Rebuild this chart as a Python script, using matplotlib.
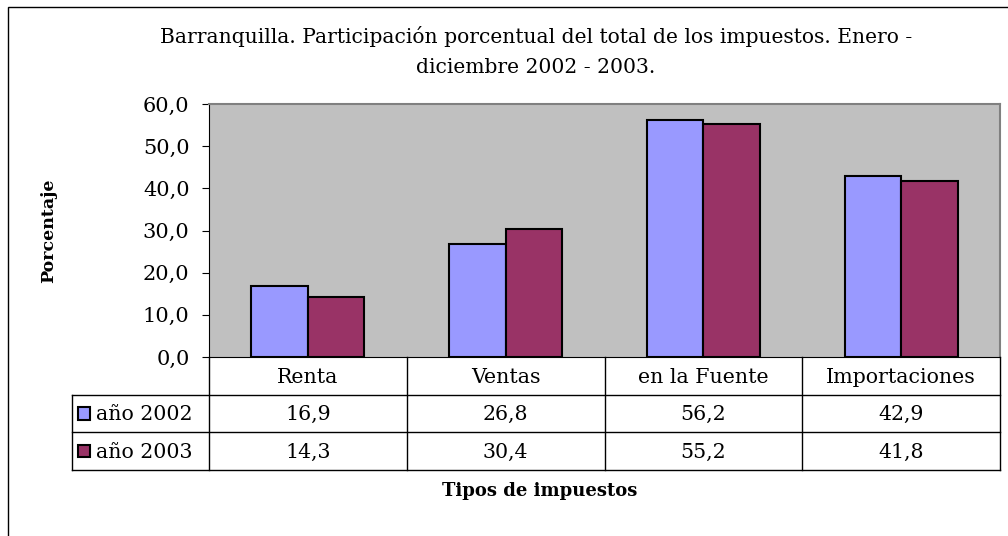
import matplotlib.pyplot as plt
import numpy as np
from matplotlib.patches import Rectangle

plt.rc('font', family='DejaVu Serif')

# data
categorias = ["Renta", "Ventas", "en la Fuente", "Importaciones"]
series = ["año 2002", "año 2003"]
valores_2002 = [16.9, 26.8, 56.2, 42.9]
valores_2003 = [14.3, 30.4, 55.2, 41.8]
colores = ["#9999FF", "#993366"]

W, H = 1008, 536
fig = plt.figure(figsize=(W / 100, H / 100), dpi=100)


def box(x0, y0, x1, y1):
    # pixel box (from top-left) -> figure fraction rect
    return [x0 / W, 1 - y1 / H, (x1 - x0) / W, (y1 - y0) / H]


# outer chart border (right and bottom run off the image)
fig.patches.append(Rectangle((8 / W, -0.05), 1.1, 1 - 7 / H + 0.05,
                             transform=fig.transFigure, fill=False,
                             edgecolor="black", linewidth=1.0))

fig.text(536 / W, 1 - 51.5 / H,
         "Barranquilla. Participación porcentual del total de los impuestos. Enero -\n"
         "diciembre 2002 - 2003.",
         ha="center", va="center", fontsize=14.6, linespacing=1.68)

x_left, x_right = 209, 1000
ax = fig.add_axes(box(x_left, 104, x_right, 357))
ax.set_facecolor("#C0C0C0")
x = np.arange(len(categorias))
bw = 1 / 3.5
ax.bar(x - bw / 2, valores_2002, bw, color=colores[0], edgecolor="black", linewidth=1.5)
ax.bar(x + bw / 2, valores_2003, bw, color=colores[1], edgecolor="black", linewidth=1.5)
ax.set_xlim(-0.5, 3.5)
ax.set_ylim(0, 60)
ax.set_yticks(np.arange(0, 61, 10))
ax.set_yticklabels([f"{v:.1f}".replace(".", ",") for v in np.arange(0, 61, 10)])
ax.set_xticks([])
ax.tick_params(axis="y", direction="out", length=5, labelsize=15, pad=9)
for s in ["top", "right"]:
    ax.spines[s].set_color("#808080")
    ax.spines[s].set_linewidth(1.5)
for s in ["left", "bottom"]:
    ax.spines[s].set_color("black")
ax.set_ylabel("Porcentaje", fontsize=12.5, fontweight="bold")
ax.yaxis.set_label_coords((57 - x_left) / (x_right - x_left), 0.5)

# data table below the plot
cat_w = (x_right - x_left) / 4
left = -0.5 - (x_left - 72) / cat_w
tab = fig.add_axes(box(72, 357, x_right, 470))
tab.set_xlim(left, 3.5)
tab.set_ylim(3, 0)
tab.axis("off")
lk = dict(color="black", linewidth=1.0, solid_capstyle="projecting", clip_on=False)
for xv in np.arange(-0.5, 3.6, 1):
    tab.plot([xv, xv], [0, 3], **lk)
tab.plot([left, left], [1, 3], **lk)
for yv in [1, 2, 3]:
    tab.plot([left, 3.5], [yv, yv], **lk)
for i, c in enumerate(categorias):
    tab.text(i, 0.55, c, ha="center", va="center", fontsize=14.8)
for r, (nombre, vals, col) in enumerate(zip(series, [valores_2002, valores_2003], colores)):
    yc = r + 1.5
    tab.add_patch(Rectangle((left + 0.03, yc - 0.16), 0.06, 0.32, facecolor=col,
                            edgecolor="black", linewidth=1.5))
    tab.text(left + 0.12, yc + 0.03, nombre, ha="left", va="center", fontsize=14.8)
    for i, v in enumerate(vals):
        tab.text(i, yc + 0.03, f"{v:.1f}".replace(".", ","), ha="center", va="center", fontsize=14.8)

fig.text(540 / W, 1 - 491 / H, "Tipos de impuestos", ha="center", va="center",
         fontsize=13, fontweight="bold")

fig.savefig("out.png", dpi=100)
